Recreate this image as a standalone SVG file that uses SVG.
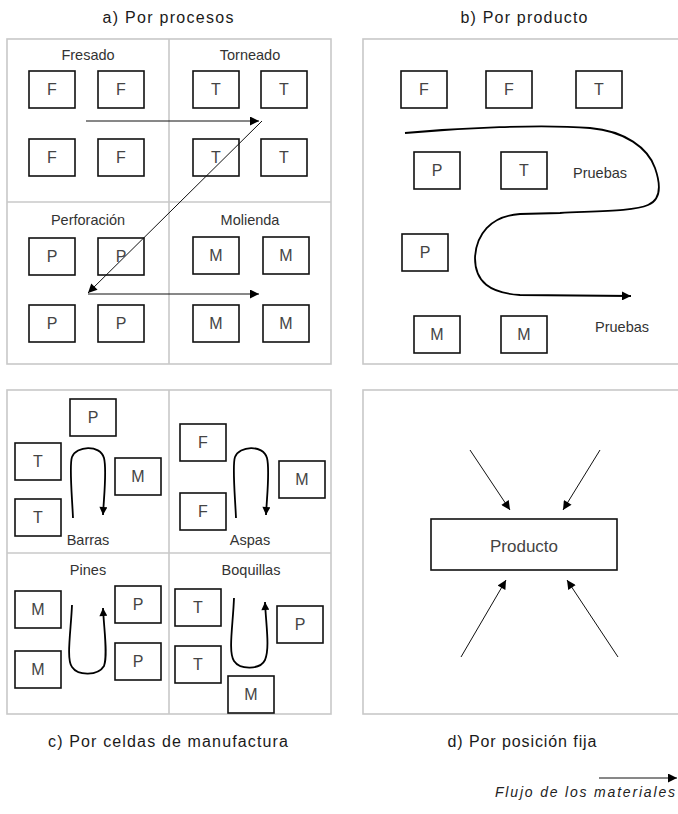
<svg xmlns="http://www.w3.org/2000/svg" width="678" height="814" viewBox="0 0 678 814">
<defs>
<marker id="ah" viewBox="0 0 10 10" refX="10" refY="5" markerWidth="11" markerHeight="9" markerUnits="userSpaceOnUse" orient="auto"><path d="M0,0 L10,5 L0,10 z" fill="#000"/></marker>
<marker id="ahs" viewBox="0 0 10 10" refX="10" refY="5" markerWidth="10" markerHeight="8" markerUnits="userSpaceOnUse" orient="auto"><path d="M0,0 L10,5 L0,10 z" fill="#000"/></marker>
</defs>
<style>
.panel{fill:#fff;stroke:#c8c8c8;stroke-width:1.6}
.div{stroke:#c8c8c8;stroke-width:1.6;fill:none}
.box{fill:#fff;stroke:#111;stroke-width:1.6}
.bl{font-family:"Liberation Sans",Arial,sans-serif;font-size:16px;fill:#444;text-anchor:middle}
.lbl{font-family:"Liberation Sans",Arial,sans-serif;font-size:14.5px;fill:#333;text-anchor:middle}
.ttl{font-family:"Liberation Sans",Arial,sans-serif;font-size:16px;fill:#1a1a1a;text-anchor:middle}
.thin{stroke:#111;stroke-width:1;fill:none}
.curve{stroke:#000;stroke-width:1.8;fill:none}
</style>
<rect width="678" height="814" fill="#fff"/>

<!-- Panel a -->
<g id="panel-a">
<rect class="panel" x="7" y="39" width="324" height="325"/>
<line class="div" x1="169" y1="39" x2="169" y2="364"/>
<line class="div" x1="7" y1="202" x2="331" y2="202"/>
<text class="ttl" x="168" y="23" textLength="131" lengthAdjust="spacing">a) Por procesos</text>
<text class="lbl" x="88" y="60">Fresado</text>
<text class="lbl" x="250" y="60">Torneado</text>
<text class="lbl" x="88" y="225">Perforación</text>
<text class="lbl" x="250" y="225">Molienda</text>
</g>
<g id="a-F1"><rect class="box" x="29" y="71" width="46" height="37"/><text class="bl" x="52" y="95">F</text></g>
<g id="a-F2"><rect class="box" x="98" y="71" width="46" height="37"/><text class="bl" x="121" y="95">F</text></g>
<g id="a-F3"><rect class="box" x="29" y="139" width="46" height="37"/><text class="bl" x="52" y="163">F</text></g>
<g id="a-F4"><rect class="box" x="98" y="139" width="46" height="37"/><text class="bl" x="121" y="163">F</text></g>
<g id="a-T1"><rect class="box" x="193" y="71" width="46" height="37"/><text class="bl" x="216" y="95">T</text></g>
<g id="a-T2"><rect class="box" x="261" y="71" width="46" height="37"/><text class="bl" x="284" y="95">T</text></g>
<g id="a-T3"><rect class="box" x="193" y="139" width="46" height="37"/><text class="bl" x="216" y="163">T</text></g>
<g id="a-T4"><rect class="box" x="261" y="139" width="46" height="37"/><text class="bl" x="284" y="163">T</text></g>
<g id="a-P1"><rect class="box" x="29" y="238" width="46" height="37"/><text class="bl" x="52" y="262">P</text></g>
<g id="a-P2"><rect class="box" x="98" y="238" width="46" height="37"/><text class="bl" x="121" y="262">P</text></g>
<g id="a-P3"><rect class="box" x="29" y="305" width="46" height="37"/><text class="bl" x="52" y="329">P</text></g>
<g id="a-P4"><rect class="box" x="98" y="305" width="46" height="37"/><text class="bl" x="121" y="329">P</text></g>
<g id="a-M1"><rect class="box" x="193" y="237" width="46" height="37"/><text class="bl" x="216" y="261">M</text></g>
<g id="a-M2"><rect class="box" x="263" y="237" width="46" height="37"/><text class="bl" x="286" y="261">M</text></g>
<g id="a-M3"><rect class="box" x="193" y="305" width="46" height="37"/><text class="bl" x="216" y="329">M</text></g>
<g id="a-M4"><rect class="box" x="263" y="305" width="46" height="37"/><text class="bl" x="286" y="329">M</text></g>

<!-- Panel b -->
<g id="panel-b">
<rect class="panel" x="363" y="39" width="330" height="325"/>
<text class="ttl" x="524" y="23" textLength="127" lengthAdjust="spacing">b) Por producto</text>
<text class="lbl" x="573" y="178" style="text-anchor:start">Pruebas</text>
<text class="lbl" x="595" y="332" style="text-anchor:start">Pruebas</text>
</g>
<g id="b-F1"><rect class="box" x="401" y="71" width="46" height="37"/><text class="bl" x="424" y="95">F</text></g>
<g id="b-F2"><rect class="box" x="486" y="71" width="46" height="37"/><text class="bl" x="509" y="95">F</text></g>
<g id="b-T1"><rect class="box" x="576" y="71" width="46" height="37"/><text class="bl" x="599" y="95">T</text></g>
<g id="b-P1"><rect class="box" x="414" y="152" width="46" height="37"/><text class="bl" x="437" y="176">P</text></g>
<g id="b-T2"><rect class="box" x="501" y="152" width="46" height="37"/><text class="bl" x="524" y="176">T</text></g>
<g id="b-P2"><rect class="box" x="402" y="234" width="46" height="37"/><text class="bl" x="425" y="258">P</text></g>
<g id="b-M1"><rect class="box" x="414" y="316" width="46" height="37"/><text class="bl" x="437" y="340">M</text></g>
<g id="b-M2"><rect class="box" x="501" y="316" width="46" height="37"/><text class="bl" x="524" y="340">M</text></g>

<!-- Panel c -->
<g id="panel-c">
<rect class="panel" x="7" y="390" width="324" height="324"/>
<line class="div" x1="169" y1="390" x2="169" y2="714"/>
<line class="div" x1="7" y1="553" x2="331" y2="553"/>
<text class="ttl" x="168" y="747" textLength="240" lengthAdjust="spacing">c) Por celdas de manufactura</text>
<text class="lbl" x="88" y="545">Barras</text>
<text class="lbl" x="250" y="545">Aspas</text>
<text class="lbl" x="88" y="575">Pines</text>
<text class="lbl" x="251" y="575">Boquillas</text>
</g>
<g id="c-P1"><rect class="box" x="70" y="399" width="46" height="37"/><text class="bl" x="93" y="423">P</text></g>
<g id="c-T1"><rect class="box" x="15" y="443" width="46" height="37"/><text class="bl" x="38" y="467">T</text></g>
<g id="c-T2"><rect class="box" x="15" y="499" width="46" height="37"/><text class="bl" x="38" y="523">T</text></g>
<g id="c-M1"><rect class="box" x="115" y="458" width="46" height="37"/><text class="bl" x="138" y="482">M</text></g>
<g id="c-F1"><rect class="box" x="180" y="424" width="46" height="37"/><text class="bl" x="203" y="448">F</text></g>
<g id="c-F2"><rect class="box" x="180" y="493" width="46" height="37"/><text class="bl" x="203" y="517">F</text></g>
<g id="c-M2"><rect class="box" x="279" y="461" width="46" height="37"/><text class="bl" x="302" y="485">M</text></g>
<g id="c-M3"><rect class="box" x="15" y="591" width="46" height="37"/><text class="bl" x="38" y="615">M</text></g>
<g id="c-M4"><rect class="box" x="15" y="651" width="46" height="37"/><text class="bl" x="38" y="675">M</text></g>
<g id="c-P2"><rect class="box" x="115" y="586" width="46" height="37"/><text class="bl" x="138" y="610">P</text></g>
<g id="c-P3"><rect class="box" x="115" y="643" width="46" height="37"/><text class="bl" x="138" y="667">P</text></g>
<g id="c-T3"><rect class="box" x="175" y="589" width="46" height="37"/><text class="bl" x="198" y="613">T</text></g>
<g id="c-T4"><rect class="box" x="175" y="646" width="46" height="37"/><text class="bl" x="198" y="670">T</text></g>
<g id="c-P4"><rect class="box" x="277" y="606" width="46" height="37"/><text class="bl" x="300" y="630">P</text></g>
<g id="c-M5"><rect class="box" x="228" y="676" width="46" height="37"/><text class="bl" x="251" y="700">M</text></g>

<!-- Panel d -->
<g id="panel-d">
<rect class="panel" x="363" y="390" width="330" height="324"/>
<text class="ttl" x="522" y="747" textLength="149" lengthAdjust="spacing">d) Por posición fija</text>
</g>
<g id="d-producto"><rect class="box" x="431" y="519" width="186" height="51"/><text class="bl" x="524" y="552" style="font-size:17px">Producto</text></g>

<!-- Connectors -->
<g id="connectors">
<line class="thin" x1="86" y1="121" x2="259" y2="121" marker-end="url(#ah)"/>
<line class="thin" x1="262" y1="121" x2="88" y2="293" marker-end="url(#ah)"/>
<line class="thin" x1="88" y1="294" x2="259" y2="294" marker-end="url(#ah)"/>
<path class="curve" d="M405,133 C460,128 540,124 590,128 C625,131 648,148 655,168 C662,188 660,200 648,205 C635,211 600,211 560,213 L520,214 C490,216 476,235 475,258 C475,282 490,293 520,295 L631,296" marker-end="url(#ah)"/>
<path class="curve" d="M73,518 C72,495 69,465 72,457 C76,446 100,444 104,458 C107,470 104,495 103,515" marker-end="url(#ahs)"/>
<path class="curve" d="M236,518 C235,495 232,465 235,457 C239,446 263,444 267,458 C270,470 267,495 266,515" marker-end="url(#ahs)"/>
<path class="curve" d="M72,605 C71,630 66,660 72,667 C78,676 98,676 104,666 C108,655 104,630 103,608" marker-end="url(#ahs)"/>
<path class="curve" d="M234,598 C233,625 228,652 234,661 C240,670 260,670 265,660 C270,648 266,625 265,602" marker-end="url(#ahs)"/>
<line class="thin" x1="470" y1="450" x2="510" y2="510" marker-end="url(#ah)"/>
<line class="thin" x1="600" y1="450" x2="563" y2="510" marker-end="url(#ah)"/>
<line class="thin" x1="461" y1="657" x2="506" y2="580" marker-end="url(#ah)"/>
<line class="thin" x1="618" y1="657" x2="567" y2="580" marker-end="url(#ah)"/>
</g>

<!-- Legend -->
<g id="legend">
<line class="thin" x1="599" y1="778" x2="677" y2="778" marker-end="url(#ah)"/>
<text x="495" y="797" textLength="180" lengthAdjust="spacing" style="font-family:'Liberation Sans',Arial,sans-serif;font-size:14px;font-style:italic;fill:#222">Flujo de los materiales</text>
</g>
</svg>
